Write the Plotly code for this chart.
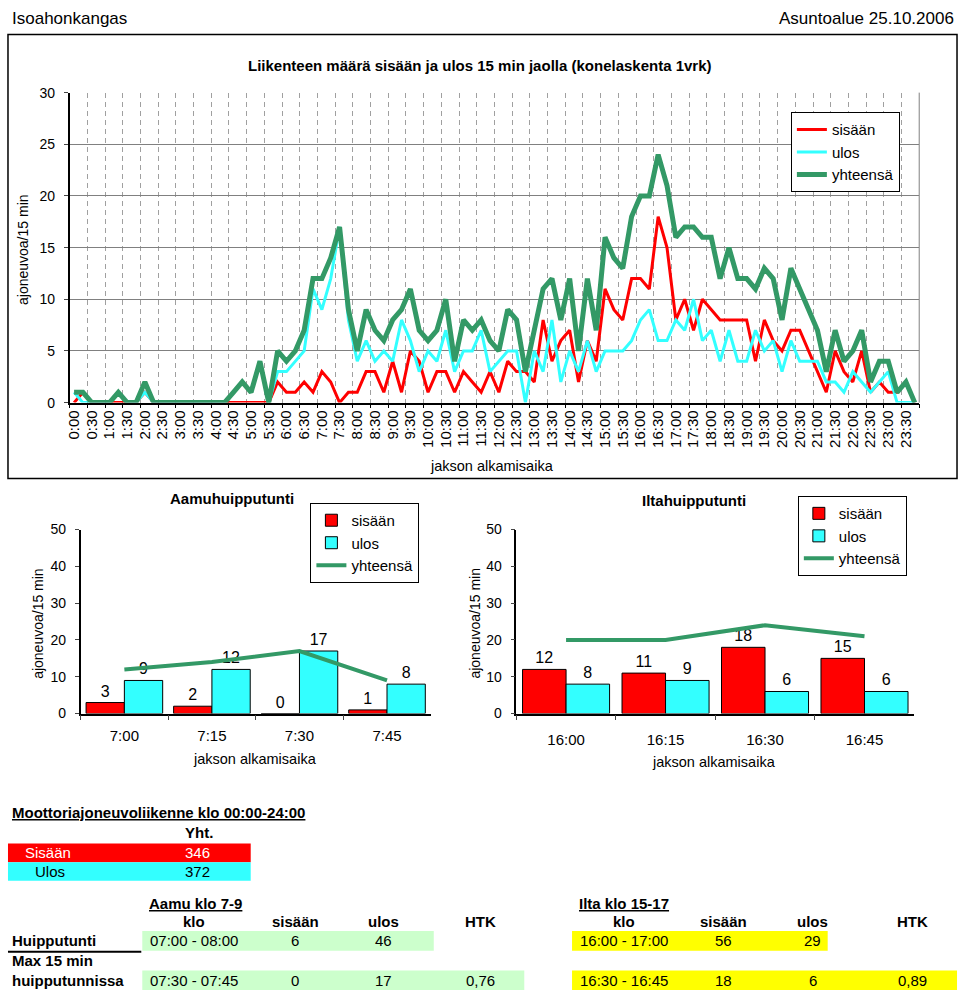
import plotly.graph_objects as go

W, H = 960, 1004
def X(px): return px / W
def Y(py): return 1 - py / H

FN = "Liberation Sans, Arial, sans-serif"
FR = "Liberation Sans, Arial, sans-serif"

RED = "#FF0000"
CYAN = "#33FFFF"
GREEN = "#339966"

# ---------------- data ----------------
times = [f"{h}:{m:02d}" for h in range(24) for m in (0, 15, 30, 45)]
sisaan = [0, 1, 0, 0, 0, 0, 0, 0, 1, 0, 0, 0, 0, 0, 0, 0,
          0, 0, 0, 0, 0, 0, 0, 2, 1, 1, 2, 1, 3, 2, 0, 1,
          1, 3, 3, 1, 4, 1, 5, 4, 1, 3, 3, 1, 3, 2, 1, 3,
          1, 4, 3, 3, 2, 8, 4, 6, 7, 2, 6, 4, 11, 9, 8, 12,
          12, 11, 18, 15, 8, 10, 7, 10, 9, 8, 8, 8, 8, 4, 8, 6,
          5, 7, 7, 5, 3, 1, 5, 3, 2, 5, 1, 2, 1, 1, 2, 0]
ulos = [1, 0, 0, 0, 0, 1, 0, 0, 1, 0, 0, 0, 0, 0, 0, 0,
        0, 0, 1, 2, 1, 4, 0, 3, 3, 4, 5, 11, 9, 12, 17, 8,
        4, 6, 4, 5, 4, 8, 6, 3, 5, 4, 7, 3, 5, 5, 7, 3,
        4, 5, 5, 0, 5, 3, 8, 2, 5, 3, 6, 3, 5, 5, 5, 6,
        8, 9, 6, 6, 8, 7, 10, 6, 7, 4, 7, 4, 4, 7, 5, 6,
        3, 6, 4, 4, 4, 2, 2, 1, 3, 2, 1, 2, 3, 0, 0, 0]
yhteensa = [1, 1, 0, 0, 0, 1, 0, 0, 2, 0, 0, 0, 0, 0, 0, 0,
            0, 0, 1, 2, 1, 4, 0, 5, 4, 5, 7, 12, 12, 14, 17, 9,
            5, 9, 7, 6, 8, 9, 11, 7, 6, 7, 10, 4, 8, 7, 8, 6,
            5, 9, 8, 3, 7, 11, 12, 8, 12, 5, 12, 7, 16, 14, 13, 18,
            20, 20, 24, 21, 16, 17, 17, 16, 16, 12, 15, 12, 12, 11, 13, 12,
            8, 13, 11, 9, 7, 3, 7, 4, 5, 7, 2, 4, 4, 1, 2, 0]
idx = list(range(len(times)))

am_times = ["7:00", "7:15", "7:30", "7:45"]
am_sisaan = [3, 2, 0, 1]
am_ulos = [9, 12, 17, 8]
am_yht = [12, 14, 17, 9]

pm_times = ["16:00", "16:15", "16:30", "16:45"]
pm_sisaan = [12, 11, 18, 15]
pm_ulos = [8, 9, 6, 6]
pm_yht = [20, 20, 24, 21]

tot_labels = ["Sisään", "Ulos"]
tot_values = [346, 372]
col_headers = ["klo", "sisään", "ulos", "HTK"]
am_peak_hour = ["07:00 - 08:00", "6", "46", ""]
am_peak_15 = ["07:30 - 07:45", "0", "17", "0,76"]
pm_peak_hour = ["16:00 - 17:00", "56", "29", ""]
pm_peak_15 = ["16:30 - 16:45", "18", "6", "0,89"]

# ---------------- figure ----------------
fig = go.Figure()

fig.add_trace(go.Scatter(x=idx, y=sisaan, name="sisään", mode="lines",
                         line=dict(color=RED, width=3),
                         xaxis="x", yaxis="y", legend="legend"))
fig.add_trace(go.Scatter(x=idx, y=ulos, name="ulos", mode="lines",
                         line=dict(color=CYAN, width=3),
                         xaxis="x", yaxis="y", legend="legend"))
fig.add_trace(go.Scatter(x=idx, y=yhteensa, name="yhteensä", mode="lines",
                         line=dict(color=GREEN, width=5),
                         xaxis="x", yaxis="y", legend="legend"))

bar_font = dict(family=FN, size=16, color="black")
for (cats, s, u, t, xa, ya, lg) in [
        (am_times, am_sisaan, am_ulos, am_yht, "x2", "y2", "legend2"),
        (pm_times, pm_sisaan, pm_ulos, pm_yht, "x3", "y3", "legend3")]:
    fig.add_trace(go.Bar(x=cats, y=s, name="sisään", marker=dict(color=RED, line=dict(color="black", width=1)),
                         text=s, textposition="outside", textfont=bar_font, cliponaxis=False,
                         xaxis=xa, yaxis=ya, legend=lg))
    fig.add_trace(go.Bar(x=cats, y=u, name="ulos", marker=dict(color=CYAN, line=dict(color="black", width=1)),
                         text=u, textposition="outside", textfont=bar_font, cliponaxis=False,
                         xaxis=xa, yaxis=ya, legend=lg))
    fig.add_trace(go.Scatter(x=cats, y=t, name="yhteensä", mode="lines",
                             line=dict(color=GREEN, width=4), xaxis=xa, yaxis=ya,
                             legend=lg))

tickf = dict(family=FN, size=14, color="black")
legend_common = dict(bgcolor="white", bordercolor="black", borderwidth=1,
                     font=dict(family=FN, size=15, color="black"),
                     xanchor="left", yanchor="top", itemwidth=30)

fig.update_layout(
    width=W, height=H, margin=dict(l=0, r=0, t=0, b=0),
    paper_bgcolor="white", plot_bgcolor="white",
    barmode="group", bargap=0.125, bargroupgap=0,
    font=dict(family=FN, color="black"),
    xaxis=dict(domain=[X(65), X(919)], range=[-0.5, 95.5], tickmode="array",
               tickvals=idx[::2], ticktext=times[::2], tickangle=-90,
               tickfont=dict(family=FR, size=15, color="black"),
               showgrid=False, zeroline=False, showline=True, linecolor="black", linewidth=1.5,
               ticks="", fixedrange=True,
               minor=dict(tick0=-0.5, dtick=2, showgrid=True, gridcolor="#a0a0a0",
                          griddash="5px,4px", gridwidth=1, ticks="outside", ticklen=4,
                          tickcolor="black")),
    yaxis=dict(domain=[Y(401), Y(86)], range=[0, 30], tickvals=[0, 5, 10, 15, 20, 25, 30],
               tickfont=tickf, showgrid=True, gridcolor="#808080", gridwidth=1,
               zeroline=False, showline=True, linecolor="black", linewidth=1.5,
               ticks="outside", ticklen=4, ticklabelstandoff=6),
    xaxis2=dict(domain=[X(76), X(428)], type="category", tickfont=dict(family=FN, size=15, color="black"),
                showline=True, linecolor="black", linewidth=1.5, ticks="outside",
                tickson="boundaries", ticklen=5, showgrid=False, anchor="y2",
                ticklabelstandoff=8),
    yaxis2=dict(domain=[Y(717), Y(530)], range=[0, 50], tickvals=[0, 10, 20, 30, 40, 50],
                tickfont=tickf, showline=True, linecolor="black", linewidth=1.5,
                ticks="outside", ticklen=4, showgrid=False, zeroline=False, anchor="x2",
                ticklabelstandoff=6),
    xaxis3=dict(domain=[X(514), X(914)], type="category", tickfont=dict(family=FN, size=15, color="black"),
                showline=True, linecolor="black", linewidth=1.5, ticks="outside",
                tickson="boundaries", ticklen=5, showgrid=False, anchor="y3",
                ticklabelstandoff=12),
    yaxis3=dict(domain=[Y(717), Y(530)], range=[0, 50], tickvals=[0, 10, 20, 30, 40, 50],
                tickfont=tickf, showline=True, linecolor="black", linewidth=1.5,
                ticks="outside", ticklen=4, showgrid=False, zeroline=False, anchor="x3",
                ticklabelstandoff=6),
    legend=dict(x=X(790), y=Y(106), **legend_common),
    legend2=dict(x=X(307), y=Y(503), **legend_common),
    legend3=dict(x=X(797), y=Y(496), **legend_common),
)

shapes = []
# outer frame of the main chart
shapes.append(dict(type="rect", xref="paper", yref="paper", x0=X(3), x1=X(957), y0=Y(478), y1=Y(27),
                   line=dict(color="black", width=1.5), fillcolor="rgba(0,0,0,0)", layer="below"))
# right edge of main plot area
shapes.append(dict(type="line", xref="x domain", yref="y domain", x0=1, x1=1, y0=0, y1=1,
                   line=dict(color="#808080", width=1)))
# table backgrounds
def rect(x0, x1, y0, y1, color):
    shapes.append(dict(type="rect", xref="paper", yref="paper", x0=X(x0), x1=X(x1), y0=Y(y1), y1=Y(y0),
                       line=dict(width=0), fillcolor=color, layer="below"))
rect(3, 247, 849, 868, RED)
rect(3, 247, 868, 887, CYAN)
rect(138, 431, 938, 958, "#CCFFCC")
rect(570, 827, 938, 958, "#FFFF00")
rect(138, 522, 978, 998, "#CCFFCC")
rect(570, 957, 978, 998, "#FFFF00")
shapes.append(dict(type="line", xref="paper", yref="paper", x0=X(3), x1=X(137), y0=Y(959), y1=Y(959),
                   line=dict(color="black", width=2)))
fig.update_layout(shapes=shapes)

ann = []
def T(text, x, y, size=15, xanchor="center", color="black", angle=0, family=FN):
    ann.append(dict(text=text, x=X(x), y=Y(y), xref="paper", yref="paper", showarrow=False,
                    xanchor=xanchor, yanchor="middle", textangle=angle,
                    font=dict(family=family, size=size, color=color)))

T("Isoahonkangas", 5, 11, size=17, xanchor="left")
T("Asuntoalue 25.10.2006", 956, 11, size=17, xanchor="right")
T("<b>Liikenteen määrä sisään ja ulos 15 min jaolla (konelaskenta 1vrk)</b>", 477, 58, size=15)
T("ajoneuvoa/15 min", 18, 245, size=14, angle=-90)
T("jakson alkamisaika", 490, 465, size=14.5)

T("<b>Aamuhuipputunti</b>", 228, 498, size=15)
T("ajoneuvoa/15 min", 33, 625, size=14, angle=-90)
T("jakson alkamisaika", 251, 763, size=14.5)
T("<b>Iltahuipputunti</b>", 693, 500, size=15)
T("ajoneuvoa/15 min", 473, 625, size=14, angle=-90)
T("jakson alkamisaika", 713, 766, size=14.5)

T("<b><u>Moottoriajoneuvoliikenne klo 00:00-24:00</u></b>", 5, 818, size=15, xanchor="left")
T("<b>Yht.</b>", 195, 838)
T(tot_labels[0], 18, 858, xanchor="left", color="white")
T(str(tot_values[0]), 194, 858, color="white")
T(tot_labels[1], 28, 877, xanchor="left")
T(str(tot_values[1]), 194, 877)

T("<b><u>Aamu klo 7-9</u></b>", 143, 910, xanchor="left")
T("<b><u>Ilta klo 15-17</u></b>", 575, 910, xanchor="left")
am_cols = [190, 292, 380, 478]
pm_cols = [622, 722, 812, 912]
for i, h in enumerate(col_headers):
    T(f"<b>{h}</b>", am_cols[i], 928)
    T(f"<b>{h}</b>", pm_cols[i], 928)
T("<b>Huipputunti</b>", 5, 948, xanchor="left")
T("<b>Max 15 min</b>", 5, 968, xanchor="left")
T("<b>huipputunnissa</b>", 5, 988, xanchor="left")
for i in range(4):
    if am_peak_hour[i]:
        T(am_peak_hour[i], am_cols[i], 948)
    if pm_peak_hour[i]:
        T(pm_peak_hour[i], pm_cols[i], 948)
    T(am_peak_15[i], am_cols[i], 988)
    T(pm_peak_15[i], pm_cols[i], 988)

fig.update_layout(annotations=ann)
fig.write_html("out.html")
